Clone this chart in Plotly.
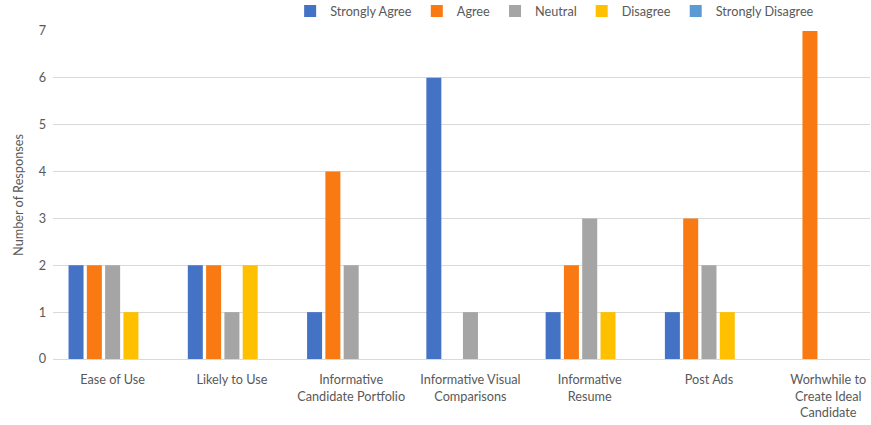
import plotly.graph_objects as go

categories = ["Ease of Use", "Likely to Use", "Informative<br>Candidate Portfolio",
              "Informative Visual<br>Comparisons", "Informative<br>Resume", "Post Ads",
              "Worhwhile to<br>Create Ideal<br>Candidate"]
series_names = ["Strongly Agree", "Agree", "Neutral", "Disagree", "Strongly Disagree"]
strongly_agree = [2, 2, 1, 6, 1, 1, 0]
agree = [2, 2, 4, 0, 2, 3, 7]
neutral = [2, 1, 2, 1, 3, 2, 0]
disagree = [1, 2, 0, 0, 1, 1, 0]
strongly_disagree = [0, 0, 0, 0, 0, 0, 0]
colors = ["#4472C4", "#F97A12", "#A5A5A5", "#FFC000", "#5B9BD5"]

values = [strongly_agree, agree, neutral, disagree, strongly_disagree]
fig = go.Figure()
for name, vals, col in zip(series_names, values, colors):
    fig.add_trace(go.Bar(x=list(range(len(categories))), y=vals, name=name,
                         marker=dict(color=col, line=dict(width=0))))

font = "Lato, Open Sans, sans-serif"
fig.update_layout(
    width=871, height=425,
    margin=dict(l=53, r=1, t=31, b=66, autoexpand=False),
    paper_bgcolor="white", plot_bgcolor="white",
    barmode="group", bargap=0.233, bargroupgap=0.18,
    font=dict(family=font, size=12.7, color="#595959"),
    legend=dict(orientation="h", x=0.614, xanchor="center", y=1.06, yanchor="middle",
                font=dict(size=12.7, color="#595959"), itemwidth=30,
                traceorder="normal", tracegroupgap=0),
    showlegend=True,
)
fig.update_xaxes(tickmode="array", tickvals=list(range(len(categories))), ticktext=categories,
                 range=[-0.5, 6.35], showgrid=False, showline=True, linecolor="#D9D9D9",
                 ticks="", tickfont=dict(size=12.7, color="#595959"), ticklabelstandoff=9,
                 automargin=False)
fig.update_yaxes(range=[0, 7], dtick=1, showgrid=True, gridcolor="#D9D9D9", gridwidth=1,
                 zeroline=False, showline=False, ticks="", automargin=False,
                 title=dict(text="Number of Responses", font=dict(size=12.7, color="#595959"), standoff=12),
                 tickfont=dict(size=12.7, color="#595959"), ticklabelstandoff=6)
fig.write_html("out.html")
